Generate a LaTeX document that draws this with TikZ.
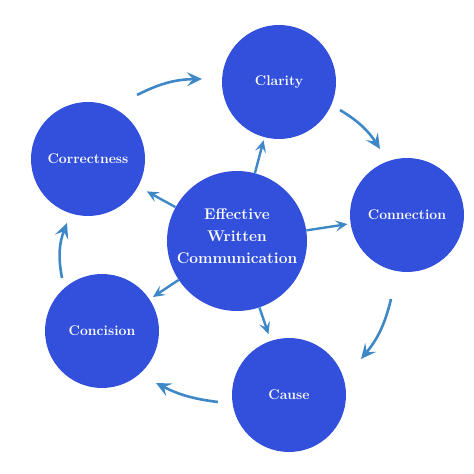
\documentclass[tikz,border=0pt]{standalone}
\usepackage{fontspec}
\usetikzlibrary{arrows.meta}
\definecolor{topicblue}{RGB}{50,80,220}
\definecolor{arrowblue}{RGB}{62,136,200}
\tikzset{
  topic/.style={circle, fill=topicblue, text=white, minimum size=114pt, inner sep=0pt,
    font=\bfseries\fontsize{14}{16}\selectfont},
  spoke/.style={draw=arrowblue, line width=2.4pt, -{Stealth[length=12pt,width=11pt,inset=5pt]}},
  ring/.style={draw=arrowblue, line width=2.6pt, -{Stealth[length=15pt,width=14pt,inset=6pt]}},
}
\begin{document}
\begin{tikzpicture}[x=1pt, y=1pt]
    \useasboundingbox (0,0) rectangle (474,474);
    % Centre
    \node[topic, minimum size=140pt, align=center, text depth=10pt,
        font=\bfseries\fontsize{15.5}{22}\selectfont]
        (eff) at (237,233) {Effective\\Written\\Communication};
    % The five topics
    \foreach \nm/\pos/\lbl in {clar/{279,392}/Clarity, conn/{407,259}/Connection,
        cause/{289,79}/Cause, conc/{102,143}/Concision, corr/{88,315}/Correctness}
        \node[topic] (\nm) at (\pos) {\lbl};
    % Spokes (centre to topic)
    \foreach \nm/\gap in {clar/3, conn/3, cause/7, conc/4, corr/10}
        \draw[spoke, shorten >=\gap pt] (eff) -- (\nm);
    % Outer ring
    \foreach \i/\ax/\ay/\bx/\by/\bend in {1/137/379/202/395/13, 2/340/364/380/325/13,
        3/391/175/361/115/13, 4/218/72/156/91/10, 5/62/196/67/251/16} {
        \coordinate (s\i) at (\ax,\ay);
        \coordinate (e\i) at (\bx,\by);
        \draw[ring] (s\i) to[bend left=\bend] (e\i);
    }
\end{tikzpicture}
\end{document}
